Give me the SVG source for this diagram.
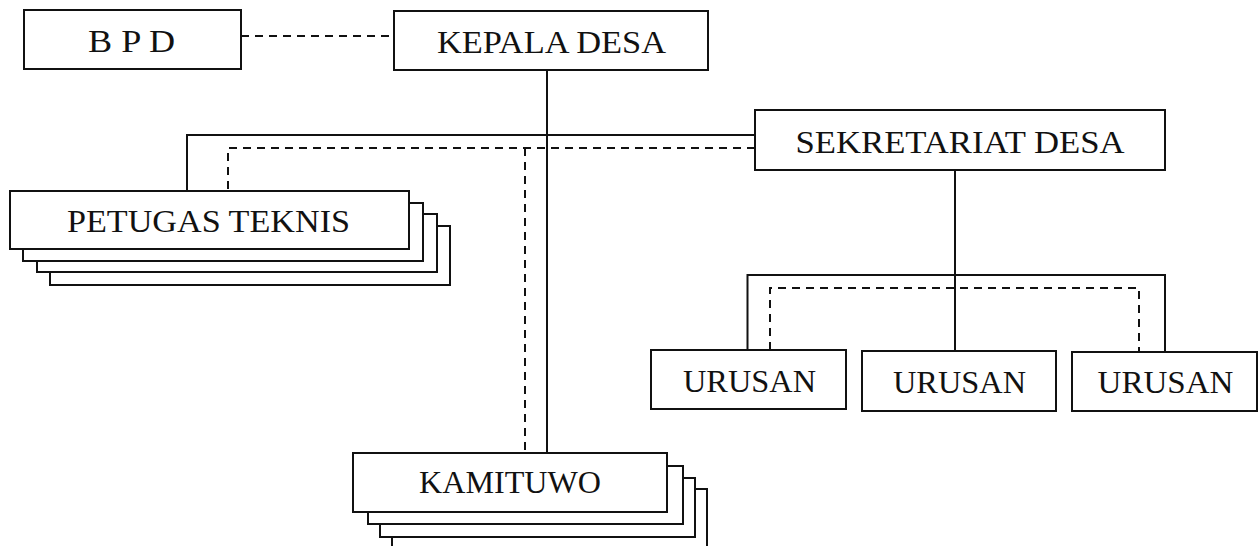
<svg xmlns="http://www.w3.org/2000/svg" width="1260" height="546" viewBox="0 0 1260 546">
<style>
.box{fill:#fff;stroke:#111;stroke-width:2}
.t{font-family:"Liberation Serif","DejaVu Serif",serif;font-size:32px;fill:#111;text-anchor:middle}
.ln{fill:none;stroke:#111;stroke-width:2}
.ds{fill:none;stroke:#111;stroke-width:2;stroke-dasharray:8 6}
</style>
<rect width="1260" height="546" fill="#fff"/>
<g id="connectors">
<line class="ds" x1="241" y1="36" x2="394" y2="36"/>
<line class="ln" x1="547" y1="70" x2="547" y2="453"/>
<polyline class="ln" points="755,135 187,135 187,191"/>
<polyline class="ds" points="755,148 228,148 228,191"/>
<line class="ds" x1="525" y1="148" x2="525" y2="453"/>
<line class="ln" x1="955" y1="170" x2="955" y2="351"/>
<polyline class="ln" points="747.5,350 747.5,275 1165,275 1165,352"/>
<polyline class="ds" points="770,350 770,288 1139,288 1139,352"/>
</g>
<g id="bpd">
<rect class="box" x="24" y="10" width="217" height="59"/>
<text class="t" x="131.5" y="52" textLength="87" lengthAdjust="spacingAndGlyphs">B P D</text>
</g>
<g id="kepala-desa">
<rect class="box" x="394" y="11" width="314" height="59"/>
<text class="t" x="551.5" y="53" textLength="229" lengthAdjust="spacingAndGlyphs">KEPALA DESA</text>
</g>
<g id="sekretariat-desa">
<rect class="box" x="755" y="110" width="410" height="60"/>
<text class="t" x="960" y="153" textLength="329" lengthAdjust="spacingAndGlyphs">SEKRETARIAT DESA</text>
</g>
<g id="petugas-teknis">
<rect class="box" x="50" y="226" width="400" height="59"/>
<rect class="box" x="37" y="214" width="400" height="58"/>
<rect class="box" x="23" y="203" width="400" height="58"/>
<rect class="box" x="10" y="191" width="399" height="58"/>
<text class="t" x="208.5" y="232" textLength="283" lengthAdjust="spacingAndGlyphs">PETUGAS TEKNIS</text>
</g>
<g id="kamituwo">
<rect class="box" x="392" y="489" width="315" height="70"/>
<rect class="box" x="380" y="478" width="315" height="59"/>
<rect class="box" x="368" y="466" width="315" height="58"/>
<rect class="box" x="353" y="453" width="314" height="59"/>
<text class="t" x="510" y="493" textLength="182" lengthAdjust="spacingAndGlyphs">KAMITUWO</text>
</g>
<g id="urusan-1">
<rect class="box" x="651" y="350" width="195" height="59"/>
<text class="t" x="749.5" y="392" textLength="133" lengthAdjust="spacingAndGlyphs">URUSAN</text>
</g>
<g id="urusan-2">
<rect class="box" x="862" y="351" width="194" height="60"/>
<text class="t" x="959.5" y="393" textLength="133" lengthAdjust="spacingAndGlyphs">URUSAN</text>
</g>
<g id="urusan-3">
<rect class="box" x="1072" y="352" width="185" height="59"/>
<text class="t" x="1165.5" y="393" textLength="136" lengthAdjust="spacingAndGlyphs">URUSAN</text>
</g>
</svg>
